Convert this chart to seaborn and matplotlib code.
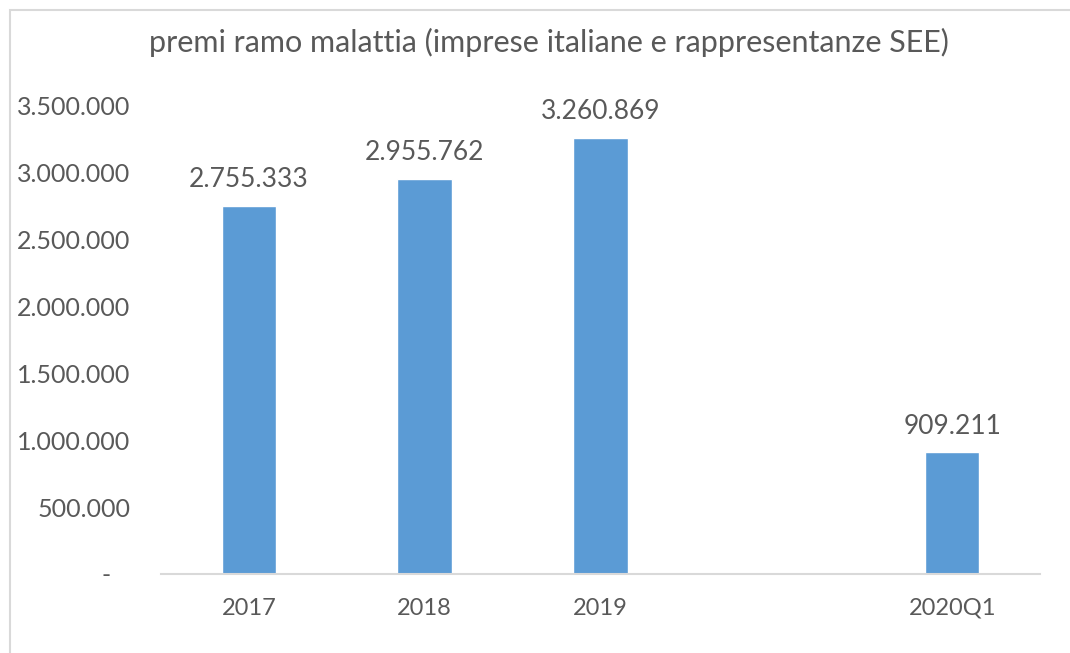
import matplotlib
matplotlib.use("Agg")
import matplotlib.pyplot as plt
import seaborn as sns
import pandas as pd
from matplotlib.patches import Rectangle
from matplotlib.ticker import FuncFormatter

# data
periods = ["2017", "2018", "2019", "2020Q1"]
premi = [2755333, 2955762, 3260869, 909211]
# Excel left an empty slot before the quarter
order = ["2017", "2018", "2019", " ", "2020Q1"]

TEXT = "#595959"
BAR = "#5B9BD5"


def fmt_it(v):
    return f"{v:,.0f}".replace(",", ".")


sns.set_theme(style="white")
plt.rcParams["font.family"] = ["Lato", "DejaVu Sans"]

df = pd.DataFrame({"periodo": periods, "premi": premi})

fig = plt.figure(figsize=(10.7, 6.53), dpi=100)
ax = fig.add_axes([0.1505, 0.121, 0.8215, 0.7167])

sns.barplot(data=df, x="periodo", y="premi", order=order, color=BAR,
            width=0.31, saturation=1, ax=ax)

ax.set_ylim(0, 3500000)
ax.set_yticks(range(0, 3500001, 500000))
ax.yaxis.set_major_formatter(FuncFormatter(lambda v, p: "-   " if v == 0 else fmt_it(v)))
ax.tick_params(axis="y", length=0, pad=22, labelsize=18, labelcolor=TEXT)
ax.tick_params(axis="x", length=0, pad=17, labelsize=17, labelcolor=TEXT)
ax.set_xlabel("")
ax.set_ylabel("")

for s in ["top", "right", "left"]:
    ax.spines[s].set_visible(False)
ax.spines["bottom"].set_color("#D9D9D9")
ax.spines["bottom"].set_linewidth(1.5)

for c in ax.containers:
    ax.bar_label(c, labels=[fmt_it(v) for v in c.datavalues if v == v],
                 padding=10, fontsize=19, color=TEXT)

fig.text(0.513, 0.935, "premi ramo malattia (imprese italiane e rappresentanze SEE)",
         ha="center", va="center", fontsize=22, color=TEXT)

# light frame of the chart area
fig.patches.append(Rectangle((10 / 1070, -0.05), 1.1, 1 - 10 / 653 + 0.05,
                             transform=fig.transFigure, fill=False,
                             edgecolor="#D9D9D9", linewidth=1.5))

fig.savefig("out.png", dpi=100)
